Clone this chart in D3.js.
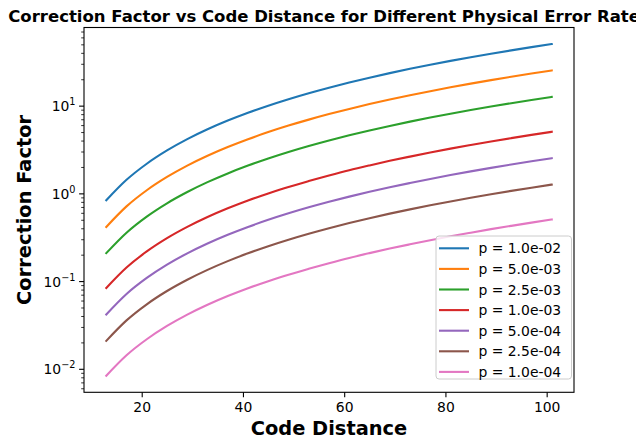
<!DOCTYPE html>
<html><head><meta charset="utf-8">
<script src="https://cdn.jsdelivr.net/npm/d3@7"></script>
<style>body{margin:0;background:#fff}svg{display:block}text{font-family:"DejaVu Sans",sans-serif}</style>
</head><body><div id="chart"></div>
<script>
const distances = [13,17,21,25,29,33,37,41,45,49,53,57,61,65,69,73,77,81,85,89,93,97,101];
const labels = ["p = 1.0e-02","p = 5.0e-03","p = 2.5e-03","p = 1.0e-03","p = 5.0e-04","p = 2.5e-04","p = 1.0e-04"];
const colors = ["#1f77b4","#ff7f0e","#2ca02c","#d62728","#9467bd","#8c564b","#e377c2"];
const s1 = [0.845,1.445,2.205,3.125,4.205,5.445,6.845,8.405,10.12,12.0,14.04,16.24,18.6,21.12,23.8,26.64,29.64,32.8,36.12,39.6,43.24,47.04,51.0];
const s2 = [0.42,0.72,1.10,1.56,2.10,2.72,3.42,4.20,5.06,6.00,7.02,8.12,9.30,10.56,11.9,13.32,14.82,16.4,18.06,19.8,21.62,23.52,25.5];
const s3 = [0.211,0.361,0.551,0.781,1.05,1.36,1.71,2.10,2.53,3.00,3.51,4.06,4.65,5.28,5.95,6.66,7.41,8.20,9.03,9.90,10.81,11.76,12.75];
const s4 = [0.0845,0.1445,0.2205,0.3125,0.42,0.544,0.684,0.84,1.01,1.20,1.40,1.62,1.86,2.11,2.38,2.66,2.96,3.28,3.61,3.96,4.32,4.70,5.10];
const s5 = [0.0422,0.0722,0.110,0.156,0.210,0.272,0.342,0.420,0.506,0.600,0.702,0.812,0.930,1.056,1.19,1.33,1.48,1.64,1.806,1.98,2.16,2.35,2.55];
const s6 = [0.0211,0.0361,0.0551,0.0781,0.105,0.136,0.171,0.210,0.253,0.300,0.351,0.406,0.465,0.528,0.595,0.666,0.741,0.820,0.903,0.990,1.081,1.176,1.275];
const s7 = [0.00845,0.01445,0.0220,0.0312,0.0420,0.0544,0.0684,0.0840,0.101,0.120,0.140,0.162,0.186,0.211,0.238,0.266,0.296,0.328,0.361,0.396,0.432,0.470,0.510];
const series = [s1,s2,s3,s4,s5,s6,s7];
const xTicks = [20,40,60,80,100];
const yMajor = [-2,-1,0,1];

const W = 636, H = 439;
const L = 84, R = 574, T = 27.5, B = 392.3;
const svg = d3.select("#chart").append("svg").attr("width", W).attr("height", H);

const allY = series.flat();
const lyMin = Math.log10(d3.min(allY)), lyMax = Math.log10(d3.max(allY));
const pad = (lyMax - lyMin) * 0.05;
const xMin = d3.min(distances), xMax = d3.max(distances), xp = (xMax - xMin) * 0.05;
const x = d3.scaleLinear().domain([xMin - xp, xMax + xp]).range([L, R]);
const y = d3.scaleLog().domain([Math.pow(10, lyMin - pad), Math.pow(10, lyMax + pad)]).range([B, T]);

svg.append("clipPath").attr("id","c").append("rect").attr("x",L).attr("y",T).attr("width",R-L).attr("height",B-T);

const line = d3.line().x((d,i)=>x(distances[i])).y(d=>y(d)).curve(d3.curveMonotoneX);
const g = svg.append("g").attr("clip-path","url(#c)");
series.forEach((s,k)=>{
  g.append("path").attr("d", line(s)).attr("fill","none").attr("stroke",colors[k]).attr("stroke-width",2.1).attr("stroke-linecap","square");
});

// x axis
const xa = svg.append("g").attr("transform",`translate(0,${B})`)
  .call(d3.axisBottom(x).tickValues(xTicks).tickSize(4.9).tickPadding(4.5).tickFormat(d3.format("d")));
xa.select(".domain").remove();
xa.selectAll("line").attr("stroke","#000").attr("stroke-width",1.1);
xa.selectAll("text").attr("font-size","13.9px").attr("fill","#000").style("font-family","DejaVu Sans");

// y axis
const [d0, d1] = y.domain();
const minorVals = [];
for (let e = Math.floor(Math.log10(d0)); e <= Math.ceil(Math.log10(d1)); e++) {
  for (let m = 2; m <= 9; m++) { const v = m * Math.pow(10, e); if (v >= d0 && v <= d1) minorVals.push(v); }
}
const ya = svg.append("g").attr("transform",`translate(${L},0)`);
ya.selectAll("line.minor").data(minorVals).join("line").attr("class","minor")
  .attr("x1",0).attr("x2",-2.8).attr("y1",d=>y(d)).attr("y2",d=>y(d)).attr("stroke","#000").attr("stroke-width",0.8);
ya.selectAll("line.major").data(yMajor).join("line").attr("class","major")
  .attr("x1",0).attr("x2",-4.9).attr("y1",d=>y(Math.pow(10,d))).attr("y2",d=>y(Math.pow(10,d))).attr("stroke","#000").attr("stroke-width",1.1);
const yl = ya.selectAll("text.major").data(yMajor).join("text").attr("class","major")
  .attr("x",-8.5).attr("y",d=>y(Math.pow(10,d))+5).attr("text-anchor","end").attr("font-size","13.9px").attr("fill","#000");
yl.append("tspan").text("10");
yl.append("tspan").attr("dy",-6).attr("font-size","9.7px").text(d=> d < 0 ? "\u2212" + Math.abs(d) : String(d));

// frame
svg.append("rect").attr("x",L).attr("y",T).attr("width",R-L).attr("height",B-T).attr("fill","none").attr("stroke","#000").attr("stroke-width",1.1);

// title & labels
svg.append("text").attr("x",(L+R)/2).attr("y",22).attr("text-anchor","middle").attr("font-size","16.5px").attr("font-weight","bold").text("Correction Factor vs Code Distance for Different Physical Error Rates");
svg.append("text").attr("x",(L+R)/2).attr("y",435).attr("text-anchor","middle").attr("font-size","19.4px").attr("font-weight","bold").text("Code Distance");
svg.append("text").attr("transform",`translate(31,${(T+B)/2}) rotate(-90)`).attr("text-anchor","middle").attr("font-size","19.4px").attr("font-weight","bold").text("Correction Factor");

// legend
const lgX = 436, lgY = 236, lgW = 135.5, lgH = 143;
svg.append("rect").attr("x",lgX).attr("y",lgY).attr("width",lgW).attr("height",lgH).attr("rx",3).attr("fill","#fff").attr("fill-opacity",0.8).attr("stroke","#cccccc").attr("stroke-width",1);
labels.forEach((lab,k)=>{
  const cy = 248.3 + k * 20.6;
  svg.append("line").attr("x1",lgX+3).attr("x2",lgX+33).attr("y1",cy).attr("y2",cy).attr("stroke",colors[k]).attr("stroke-width",2.1);
  svg.append("text").attr("x",lgX+42.5).attr("y",cy+5).attr("font-size","13.9px").attr("fill","#000").text(lab);
});
</script></body></html>
